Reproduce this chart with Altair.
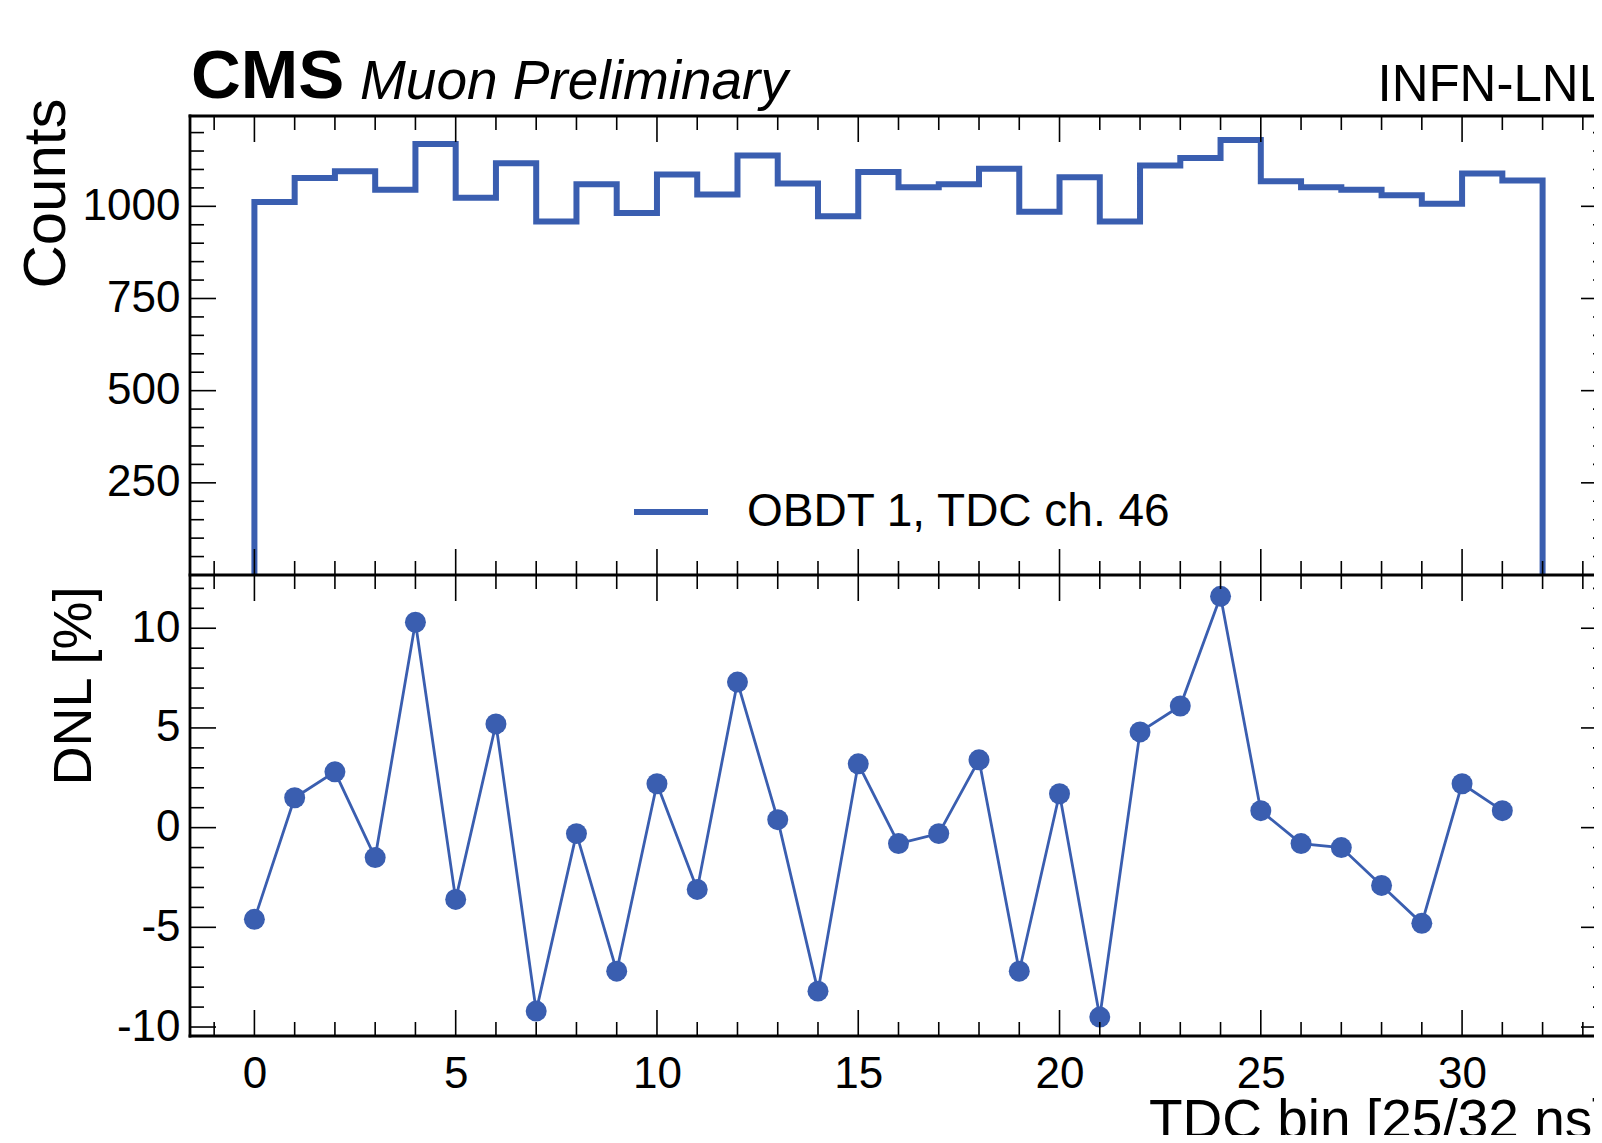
import altair as alt
import pandas as pd

# ---------------- data ----------------
bins = list(range(32))
counts = [1012, 1077, 1095, 1045, 1169, 1023, 1117, 959, 1060, 982, 1086, 1032,
          1138, 1062, 973, 1093, 1052, 1060, 1102, 985, 1079, 959, 1111, 1131,
          1180, 1068, 1052, 1045, 1030, 1007, 1089, 1070]
dnl = [-4.6, 1.5, 2.8, -1.5, 10.3, -3.6, 5.2, -9.2, -0.3, -7.2, 2.2, -3.1,
       7.3, 0.4, -8.2, 3.2, -0.8, -0.3, 3.4, -7.2, 1.7, -9.5, 4.8, 6.1,
       11.6, 0.85, -0.8, -1.0, -2.9, -4.8, 2.2, 0.85]
series_label = "OBDT 1, TDC ch. 46"

x_major = [0, 5, 10, 15, 20, 25, 30]
x_minor = [v for v in range(-1, 34) if v % 5 != 0]
c_major = [250, 500, 750, 1000]
c_minor = [v for v in range(50, 1250, 50) if v % 250 != 0]
d_major = [-10, -5, 0, 5, 10]
d_minor = [v for v in range(-10, 13) if v % 5 != 0]

# ---------------- style ----------------
FONT = "Liberation Sans"
BLUE = "#3a5eb0"
XR = 1417          # x range end (right spine, partly outside the page)
VIEW_W = 1404
HT = 459           # top panel height
H = 920            # total plot height
MAJ, MIN = 26, 14
PLAIN = "datum.value + ''"

xs = alt.Scale(domain=[-1.6, 33.6], range=[0, XR], nice=False, zero=False)
ys_c = alt.Scale(domain=[0, 1245], range=[HT, 0], nice=False, zero=False)
ys_d = alt.Scale(domain=[-10.45, 12.67], range=[H, HT], nice=False, zero=False)

# step histogram frame
step_x = [0] + bins + [32, 32]
step_y = [0] + counts + [counts[-1], 0]
step_df = pd.DataFrame({"x": step_x, "y": step_y, "i": list(range(len(step_x))),
                        "label": series_label})
dnl_df = pd.DataFrame({"bin": bins, "dnl": dnl})

layers = []

step = alt.Chart(step_df).mark_line(interpolate="step-after", strokeWidth=6,
                                    strokeJoin="miter").encode(
    x=alt.X("x:Q", scale=xs, axis=None),
    y=alt.Y("y:Q", scale=ys_c, axis=alt.Axis(
        orient="left", values=c_major, ticks=False, tickSize=0, domain=False,
        grid=False, labelFontSize=44, labelPadding=10, labelColor="black",
        labelFont=FONT, labelFlush=False, labelExpr=PLAIN,
        title="Counts", titleFont=FONT, titleFontSize=60, titleFontWeight="normal",
        titleColor="black", titleAngle=270, titleAlign="right",
        titleBaseline="alphabetic", titleX=-126, titleY=-18)),
    color=alt.Color("label:N", scale=alt.Scale(range=[BLUE]), legend=alt.Legend(
        title=None, orient="none", legendX=441, legendY=356, symbolType="stroke",
        symbolSize=5476, symbolStrokeWidth=6, labelFontSize=46, labelFont=FONT,
        labelColor="black", labelOffset=36, labelLimit=0, padding=0)),
    order=alt.Order("i:Q"),
)
layers.append(step)

dnl_chart = alt.Chart(dnl_df).mark_line(
    color=BLUE, strokeWidth=2.8,
    point=alt.OverlayMarkDef(filled=True, size=440, color=BLUE, opacity=1)).encode(
    x=alt.X("bin:Q", scale=xs, axis=alt.Axis(
        orient="bottom", values=x_major, ticks=False, tickSize=0, domain=False,
        grid=False, labelFontSize=44, labelPadding=16, labelColor="black",
        labelFont=FONT, labelFlush=False, labelExpr=PLAIN,
        title="TDC bin [25/32 ns]", titleFont=FONT, titleFontSize=55,
        titleFontWeight="normal", titleColor="black", titleAlign="right",
        titleBaseline="alphabetic", titleX=XR, titleY=101)),
    y=alt.Y("dnl:Q", scale=ys_d, axis=alt.Axis(
        orient="left", values=d_major, ticks=False, tickSize=0, domain=False,
        grid=False, labelFontSize=44, labelPadding=10, labelColor="black",
        labelFont=FONT, labelFlush=False, labelExpr=PLAIN,
        title="DNL [%]", titleFont=FONT, titleFontSize=54, titleFontWeight="normal",
        titleColor="black", titleAngle=270, titleAlign="right",
        titleBaseline="alphabetic", titleX=-100, titleY=HT + 11)),
)
layers.append(dnl_chart)

# ---------------- inward ticks ----------------
def x_ticks(vals, ln):
    base = alt.Chart(pd.DataFrame({"v": vals})).mark_rule(color="black", strokeWidth=1.6)
    out = []
    for a, b in [(0, ln), (HT - ln, HT), (HT, HT + ln), (H - ln, H)]:
        out.append(base.encode(x=alt.X("v:Q", scale=xs, axis=None),
                               y=alt.value(a), y2=alt.value(b)))
    return out


def y_ticks(vals, scale, ln):
    base = alt.Chart(pd.DataFrame({"v": vals})).mark_rule(color="black", strokeWidth=1.6)
    out = []
    for a, b in [(0, ln), (XR - ln, XR)]:
        out.append(base.encode(y=alt.Y("v:Q", scale=scale, axis=None),
                               x=alt.value(a), x2=alt.value(b)))
    return out


layers += x_ticks(x_major, MAJ) + x_ticks(x_minor, MIN)
layers += y_ticks(c_major, ys_c, MAJ) + y_ticks(c_minor, ys_c, MIN)
layers += y_ticks(d_major, ys_d, MAJ) + y_ticks(d_minor, ys_d, MIN)

# ---------------- frame ----------------
one = pd.DataFrame({"k": [0]})
spine = alt.Chart(one).mark_rule(color="black", strokeWidth=2.8, strokeCap="square")
for yv in [0, HT, H]:
    layers.append(spine.encode(x=alt.value(0), x2=alt.value(XR), y=alt.value(yv)))
for xv in [0, XR]:
    layers.append(spine.encode(x=alt.value(xv), y=alt.value(0), y2=alt.value(H)))

# ---------------- header texts ----------------
layers.append(alt.Chart(one).mark_text(
    text="CMS", font=FONT, fontSize=69, fontWeight="bold", align="left",
    baseline="alphabetic", color="black").encode(x=alt.value(1), y=alt.value(-18)))
layers.append(alt.Chart(one).mark_text(
    text="Muon Preliminary", font=FONT, fontSize=55, fontStyle="italic",
    align="left", baseline="alphabetic", color="black").encode(
    x=alt.value(170), y=alt.value(-17)))
layers.append(alt.Chart(one).mark_text(
    text="INFN-LNL", font=FONT, fontSize=51, align="right",
    baseline="alphabetic", color="black").encode(x=alt.value(XR), y=alt.value(-15)))

chart = alt.layer(*layers).resolve_scale(y="independent").resolve_axis(
    x="independent", y="independent").properties(
    width=VIEW_W, height=H,
    autosize=alt.AutoSizeParams(type="none"),
    padding={"left": 182, "top": 108, "right": 0, "bottom": 99},
).configure(font=FONT).configure_view(stroke="transparent")

chart.save("out.html", embed_options={"renderer": "svg", "actions": False})
